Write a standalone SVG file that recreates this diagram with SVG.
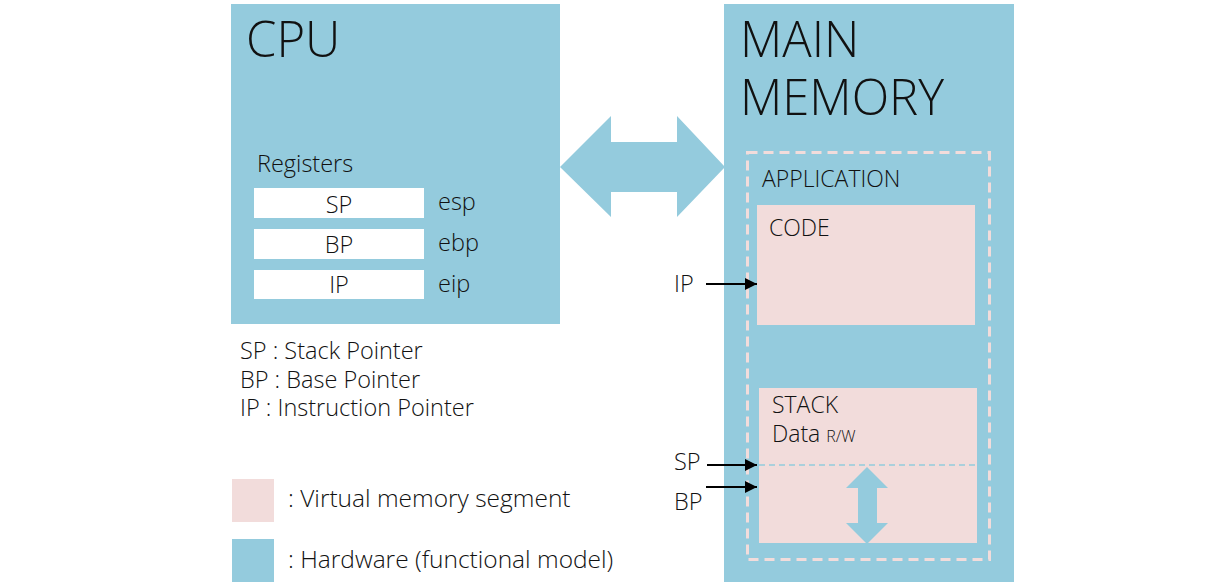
<svg xmlns="http://www.w3.org/2000/svg" width="1232" height="586" viewBox="0 0 1232 586">
<defs>
<style>
.hw{fill:#94CBDD}
.vm{fill:#F2DCDB}
.reg{fill:#FFFFFF}
text{font-family:"Open Sans","Noto Sans","Liberation Sans",sans-serif;font-weight:300;fill:#111}
.big{font-size:49px}
.md{font-size:23px}
.lg{font-size:23.5px}
.xl{font-size:24.5px}
.sm{font-size:16px}
.ptr{stroke:#000;stroke-width:2;fill:none;marker-end:url(#ah)}
</style>
<marker id="ah" viewBox="0 0 10 10" refX="10" refY="5" markerWidth="6" markerHeight="6" orient="auto" markerUnits="strokeWidth">
<path d="M0,0 L10,5 L0,10 z" fill="#000"/>
</marker>
</defs>
<rect width="1232" height="586" fill="#fff"/>

<g id="cpu">
<rect class="hw" x="231" y="4" width="329" height="320"/>
<text class="big" x="246" y="57">CPU</text>
<text class="lg" x="257" y="172">Registers</text>
</g>
<g id="reg-sp">
<rect class="reg" x="254" y="188" width="170" height="30"/>
<text class="lg" x="339" y="213" text-anchor="middle">SP</text>
<text class="lg" x="438" y="210">esp</text>
</g>
<g id="reg-bp">
<rect class="reg" x="254" y="229" width="170" height="30"/>
<text class="lg" x="339" y="253" text-anchor="middle">BP</text>
<text class="lg" x="438" y="251">ebp</text>
</g>
<g id="reg-ip">
<rect class="reg" x="254" y="270" width="170" height="29"/>
<text class="lg" x="339" y="293" text-anchor="middle">IP</text>
<text class="lg" x="438" y="292">eip</text>
</g>

<g id="bus">
<polygon class="hw" points="560,167 611,116 611,142 677,142 677,116 725,167 677,217 677,192 611,192 611,217"/>
</g>

<g id="main-memory">
<rect class="hw" x="724" y="4" width="290" height="578"/>
<text class="big" x="740" y="57">MAIN</text>
<text class="big" x="740" y="115">MEMORY</text>
</g>
<g id="application">
<rect x="747.5" y="152.5" width="242" height="407" fill="none" stroke="#F2DCDB" stroke-width="3" stroke-dasharray="10,6"/>
<text class="md" x="762" y="187">APPLICATION</text>
</g>
<g id="code">
<rect class="vm" x="757" y="205" width="218" height="120"/>
<text class="md" x="769" y="236">CODE</text>
</g>
<g id="stack">
<rect class="vm" x="759" y="388" width="218" height="155"/>
<text class="md" x="772" y="413">STACK</text>
<text class="md" x="772" y="442">Data <tspan class="sm">R/W</tspan></text>
<line x1="759" y1="465" x2="977" y2="465" stroke="#94CBDD" stroke-width="1.5" stroke-dasharray="6,4"/>
<polygon class="hw" points="867,467 888,488 877,488 877,523 888,523 867,544 846,523 858,523 858,488 846,488"/>
</g>

<g id="connectors">
<line class="ptr" x1="706" y1="284" x2="757" y2="284"/>
<line class="ptr" x1="707" y1="465" x2="757" y2="465"/>
<line class="ptr" x1="706" y1="487" x2="757" y2="487"/>
</g>
<g id="pointer-labels">
<text class="lg" x="674" y="292">IP</text>
<text class="lg" x="674" y="470">SP</text>
<text class="lg" x="674" y="510">BP</text>
</g>

<g id="abbrev">
<text class="lg" x="240" y="359">SP : Stack Pointer</text>
<text class="lg" x="240" y="388">BP : Base Pointer</text>
<text class="lg" x="240" y="416">IP : Instruction Pointer</text>
</g>
<g id="legend-vm">
<rect class="vm" x="232" y="479" width="42" height="43"/>
<text class="xl" x="288" y="507">: Virtual memory segment</text>
</g>
<g id="legend-hw">
<rect class="hw" x="232" y="539" width="42" height="43"/>
<text class="xl" x="288" y="568">: Hardware (functional model)</text>
</g>
</svg>
